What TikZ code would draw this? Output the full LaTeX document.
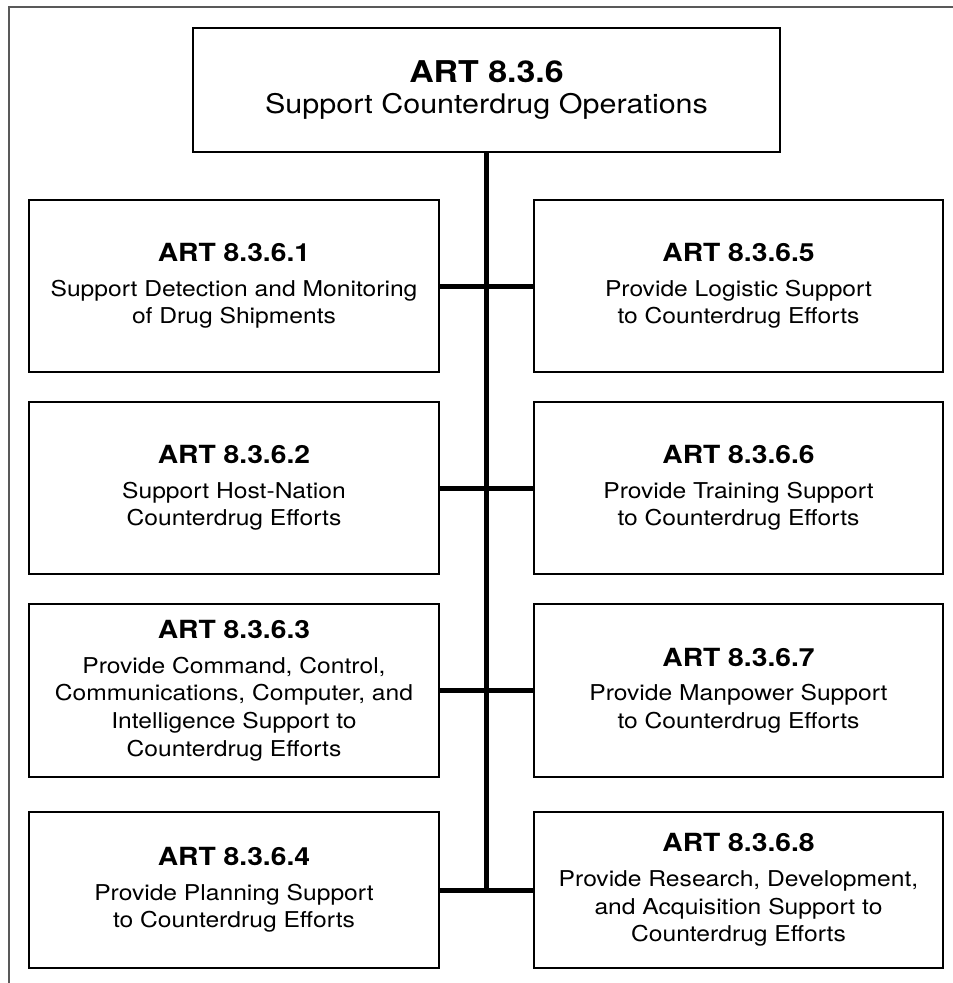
\documentclass[tikz,border=0pt]{standalone}
\usepackage{fontspec}
\setmainfont{TeX Gyre Heros}[FakeStretch=1.13]
\begin{document}
\begin{tikzpicture}[x=1pt,y=1pt,
  box/.style={draw=black, line width=2pt, rectangle, align=center, inner sep=0pt,
    font=\fontsize{21.8}{27.7}\selectfont},
  lbox/.style={box, minimum width=410pt},
  rbox/.style={box, minimum width=409pt},
  link/.style={line width=5pt, draw=black},
  frame/.style={draw=black!65, line width=1.2pt}
]
\useasboundingbox (0,0) rectangle (953,-983);
\newcommand{\ttl}[1]{{\bfseries\fontsize{25}{27.7}\selectfont #1}\\[7pt]}
% frame
\draw[frame] (953,-7) -- (9,-7) -- (9,-983);
% top
\node[box, minimum width=587pt, minimum height=124pt] (top) at (486.5,-90)
  {{\bfseries\fontsize{30}{30}\selectfont ART 8.3.6}\\[4pt]{\fontsize{27}{30}\selectfont Support Counterdrug Operations}};
% left column
\node[lbox, minimum height=172pt] (L1) at (234,-286)
  {\ttl{ART 8.3.6.1}Support Detection and Monitoring\\of Drug Shipments};
\node[lbox, minimum height=172pt] (L2) at (234,-488)
  {\ttl{ART 8.3.6.2}Support Host-Nation\\Counterdrug Efforts};
\node[lbox, minimum height=173pt] (L3) at (234,-690.5)
  {\ttl{ART 8.3.6.3}Provide Command, Control,\\Communications, Computer, and\\Intelligence Support to\\Counterdrug Efforts};
\node[lbox, minimum height=156pt] (L4) at (234,-890)
  {\ttl{ART 8.3.6.4}Provide Planning Support\\to Counterdrug Efforts};
% right column
\node[rbox, minimum height=172pt] (R1) at (738.5,-286)
  {\ttl{ART 8.3.6.5}Provide Logistic Support\\to Counterdrug Efforts};
\node[rbox, minimum height=172pt] (R2) at (738.5,-488)
  {\ttl{ART 8.3.6.6}Provide Training Support\\to Counterdrug Efforts};
\node[rbox, minimum height=173pt] (R3) at (738.5,-690.5)
  {\ttl{ART 8.3.6.7}Provide Manpower Support\\to Counterdrug Efforts};
\node[rbox, minimum height=156pt] (R4) at (738.5,-890)
  {\ttl{ART 8.3.6.8}Provide Research, Development,\\and Acquisition Support to\\Counterdrug Efforts};
% connectors
\draw[link] (top.south) -- (top.south |- L4.east);
\draw[link] (L1.east) -- (R1.west);
\draw[link] (L2.east) -- (R2.west);
\draw[link] (L3.east) -- (R3.west);
\draw[link] (L4.east) -- (R4.west);
\end{tikzpicture}
\end{document}
